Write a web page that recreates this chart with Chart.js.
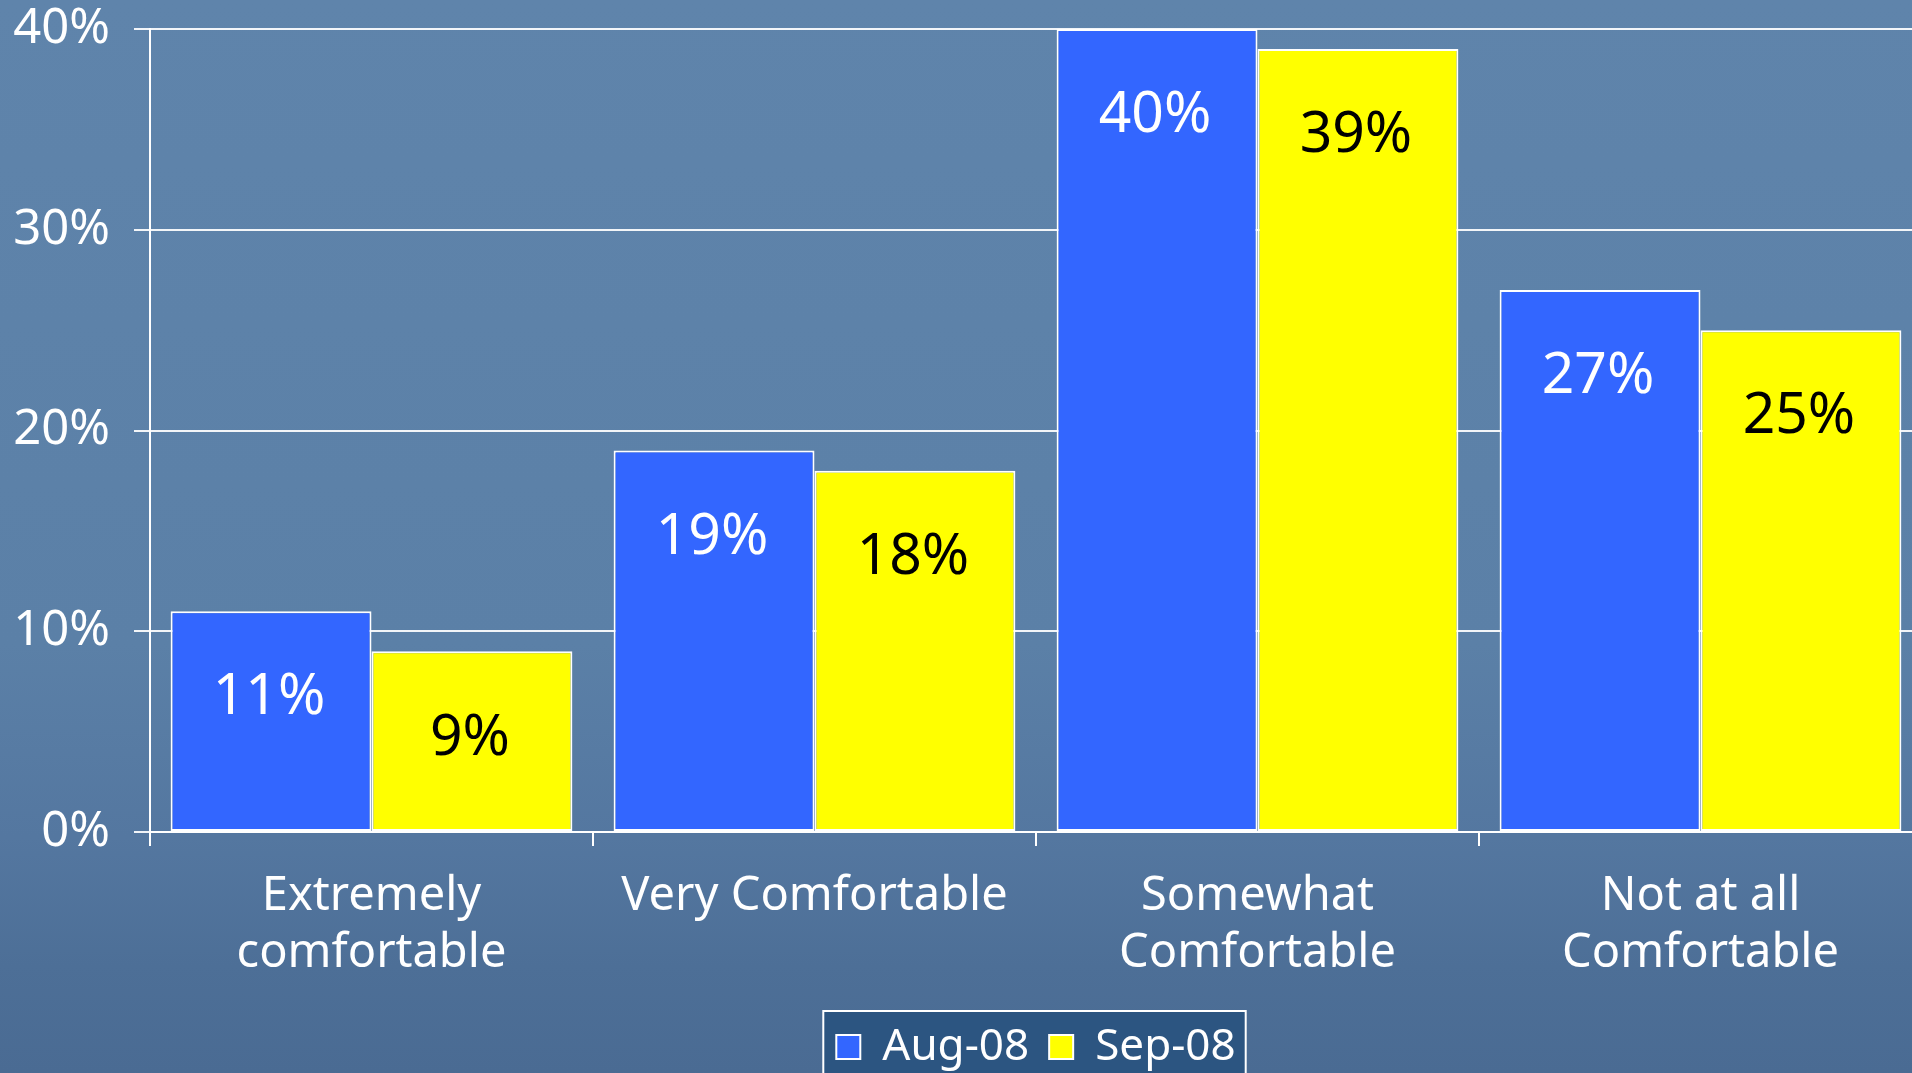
<!DOCTYPE html>
<html>
<head>
<meta charset="utf-8">
<script src="https://cdn.jsdelivr.net/npm/chart.js@4/dist/chart.umd.min.js"></script>
<style>
  html, body { margin: 0; padding: 0; overflow: hidden; }
  body {
    width: 1912px; height: 1073px;
    background: linear-gradient(to bottom, #5f84ab 0%, #5b80a7 60%, #5477a0 78%, #4d6f97 90%, #4a6b93 100%);
  }
  #wrap { position: absolute; left: 0; top: 0; width: 1922px; height: 1073px; }
</style>
</head>
<body>
<div id="wrap"><canvas id="c"></canvas></div>
<script>
const categories = [["Extremely", "comfortable"], ["Very Comfortable"], ["Somewhat", "Comfortable"], ["Not at all", "Comfortable"]];
const seriesNames = ["Aug-08", "Sep-08"];
const aug08 = [11, 19, 40, 27];
const sep08 = [9, 18, 39, 25];
const yTicks = [0, 10, 20, 30, 40];

const FONT = "'Noto Sans', 'Open Sans', sans-serif";

const legendBackground = {
  id: 'legendBackground',
  beforeDraw(chart) {
    const lg = chart.legend;
    if (!lg || !lg.legendHitBoxes || !lg.legendHitBoxes.length) return;
    const hb = lg.legendHitBoxes;
    let minL = Infinity, maxR = -Infinity, cy = 0;
    hb.forEach(h => { minL = Math.min(minL, h.left); maxR = Math.max(maxR, h.left + h.width); cy = h.top + h.height / 2; });
    const ctx = chart.ctx;
    ctx.save();
    const x0 = minL - 13, x1 = maxR + 10, y0 = cy - 36, y1 = chart.height + 10;
    ctx.fillStyle = '#2c5581';
    ctx.fillRect(x0, y0, x1 - x0, y1 - y0);
    ctx.strokeStyle = '#ffffff';
    ctx.lineWidth = 2;
    ctx.strokeRect(x0, y0, x1 - x0, y1 - y0);
    ctx.restore();
  }
};

const valueLabels = {
  id: 'valueLabels',
  afterDatasetsDraw(chart) {
    const ctx = chart.ctx;
    const colors = ['#ffffff', '#000000'];
    ctx.save();
    ctx.font = "57px " + FONT;
    ctx.textAlign = 'center';
    ctx.textBaseline = 'middle';
    chart.data.datasets.forEach((ds, di) => {
      const meta = chart.getDatasetMeta(di);
      ctx.fillStyle = colors[di];
      meta.data.forEach((bar, i) => {
        ctx.fillText(ds.data[i] + '%', bar.x - 2, bar.y + 87);
      });
    });
    ctx.restore();
  }
};

new Chart(document.getElementById('c'), {
  type: 'bar',
  data: {
    labels: categories,
    datasets: [
      { label: seriesNames[0], data: aug08, backgroundColor: '#3366ff', borderColor: '#ffffff', borderWidth: 2, borderSkipped: false },
      { label: seriesNames[1], data: sep08, backgroundColor: '#ffff00', borderColor: '#ffffff', borderWidth: 2, borderSkipped: false }
    ]
  },
  options: {
    responsive: true,
    maintainAspectRatio: false,
    animation: false,
    events: [],
    layout: { padding: { top: 29, left: 0, right: 0, bottom: -6 } },
    datasets: { bar: { categoryPercentage: 0.907, barPercentage: 1.0 } },
    plugins: {
      tooltip: { enabled: false },
      legend: {
        position: 'bottom',
        fullSize: false,
        labels: {
          color: '#ffffff',
          font: { family: FONT, size: 44 },
          boxWidth: 24,
          boxHeight: 24,
          padding: 20
        }
      }
    },
    scales: {
      x: {
        offset: true,
        grid: { display: true, drawOnChartArea: false, drawTicks: true, tickLength: 14, color: '#ffffff', lineWidth: 2, offset: true },
        border: { display: true, color: '#ffffff', width: 2 },
        ticks: { color: '#ffffff', font: { family: FONT, size: 47, lineHeight: 1.213 }, padding: 22, maxRotation: 0, autoSkip: false },
        afterFit(scale) { scale.height = 173; scale.paddingLeft = 0; scale.paddingRight = 0; }
      },
      y: {
        min: yTicks[0],
        max: yTicks[yTicks.length - 1],
        afterBuildTicks(scale) { scale.ticks = yTicks.map(v => ({ value: v })); },
        grid: { color: 'rgba(255,255,255,0.92)', lineWidth: 2, tickLength: 16, drawTicks: true },
        border: { display: true, color: '#ffffff', width: 2 },
        ticks: { color: '#ffffff', font: { family: FONT, size: 49 }, padding: 24, callback: v => v + '%' },
        afterFit(scale) { scale.width = 150; scale.paddingTop = 0; scale.paddingBottom = 0; }
      }
    }
  },
  plugins: [legendBackground, valueLabels]
});
</script>
</body>
</html>
